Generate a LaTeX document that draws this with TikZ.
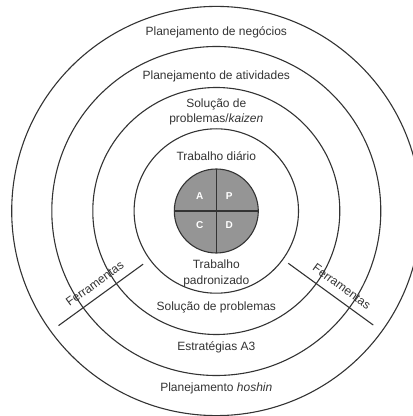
\documentclass[tikz,border=0pt]{standalone}
\usepackage{fontspec}
\setmainfont{Liberation Sans}
\usetikzlibrary{calc}
\definecolor{ink}{HTML}{333333}
\definecolor{pdcagray}{HTML}{959595}
\tikzset{
  ring/.style={draw=ink, line width=1.1pt},
  lbl/.style={text=ink, font=\fontsize{12}{15.7}\selectfont, inner sep=0pt, anchor=base, align=center},
  letter/.style={text=white, font=\fontsize{10}{12}\selectfont\bfseries, inner sep=0pt, anchor=center},
  tool/.style={draw=ink, line width=1.1pt},
}
\begin{document}
\begin{tikzpicture}[x=1pt,y=1pt]
\useasboundingbox (0,0) rectangle (413,416);
\clip (0,0) rectangle (413,416);
\coordinate (c) at (216.3,205);
% rings
\draw[ring] (c) circle[radius=82.2pt];
\draw[ring] (c) circle[radius=123.5pt];
\draw[ring] (c) circle[radius=164.5pt];
\draw[ring] (c) circle[radius=204.6pt];
% PDCA disc
\draw[ring, fill=pdcagray] (c) circle[radius=42pt];
\draw[ring] ($(c)+(0,42)$) -- ($(c)+(0,-42)$);
\draw[ring] ($(c)+(-42,0)$) -- ($(c)+(42,0)$);
\node[letter] (A) at ($(c)+(-16.5,14.5)$) {A};
\node[letter] (P) at ($(c)+(13,14.5)$) {P};
\node[letter] (C) at ($(c)+(-16.5,-14)$) {C};
\node[letter] (D) at ($(c)+(13,-14)$) {D};
% labels
\node[lbl] (t1) at (216.3,416-36) {Planejamento de negócios};
\node[lbl] (t2) at (216.3,416-80) {Planejamento de atividades};
\node[lbl] (t3a) at (216.3,416-107.5) {Solução de};
\node[lbl] (t3b) at (216.3,416-123) {problemas/\textit{kaizen}};
\node[lbl] (t4) at (216.3,416-161) {Trabalho diário};
\node[lbl] (t5a) at (216.3,416-269) {Trabalho};
\node[lbl] (t5b) at (216.3,416-284.5) {padronizado};
\node[lbl] (t6) at (216.3,416-310) {Solução de problemas};
\node[lbl] (t7) at (216.3,416-350.5) {Estratégias A3};
\node[lbl] (t8) at (216.3,416-392) {Planejamento \textit{hoshin}};
% tools lines
\coordinate (l1) at ($(c)+(216:90.5)$);
\coordinate (l2) at ($(c)+(216:195)$);
\coordinate (r1) at ($(c)+(-36:89)$);
\coordinate (r2) at ($(c)+(-36:194)$);
\draw[tool] (l1) -- (l2);
\draw[tool] (r1) -- (r2);
\node[lbl, rotate=36] (fl) at ($(c)+(216:141)+(126:8.5)$) {Ferramentas};
\node[lbl, rotate=-36] (fr) at ($(c)+(-36:146)+(54:8.5)$) {Ferramentas};
\end{tikzpicture}
\end{document}
